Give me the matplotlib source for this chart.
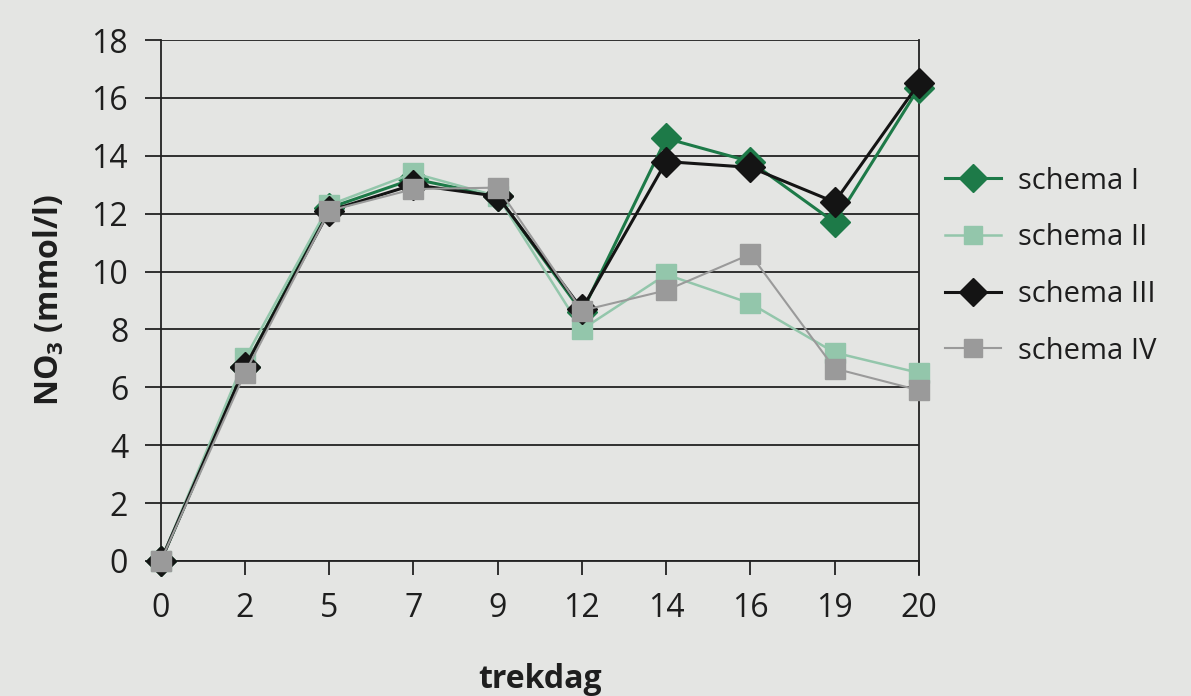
import numpy as np
import matplotlib.pyplot as plt

# trekdag (categories, equally spaced on the axis)
days = ['0', '2', '5', '7', '9', '12', '14', '16', '19', '20']

# NO3 concentration (mmol/l) per schema
schema_1 = [0, 6.7, 12.2, 13.2, 12.6, 8.6, 14.6, 13.8, 11.7, 16.35]
schema_2 = [0, 7.0, 12.3, 13.4, 12.6, 8.0, 9.9, 8.9, 7.2, 6.5]
schema_3 = [0, 6.7, 12.1, 13.0, 12.6, 8.7, 13.8, 13.6, 12.4, 16.5]
schema_4 = [0, 6.5, 12.1, 12.85, 12.9, 8.65, 9.35, 10.6, 6.65, 5.9]

bg = '#e4e5e3'
plt.rcParams['font.family'] = ['Open Sans', 'DejaVu Sans']

fig = plt.figure(figsize=(11.91, 6.96), dpi=100, facecolor=bg)
ax = fig.add_axes([0.135, 0.194, 0.6365, 0.7485], facecolor=bg)

x = np.arange(len(days))

ax.plot(x, schema_1, color='#1d7a48', lw=2.2, marker='D', ms=15,
        mec='#1d7a48', mfc='#1d7a48', label='schema I', zorder=3, clip_on=False)
ax.plot(x, schema_2, color='#93c6ab', lw=1.8, marker='s', ms=14,
        mec='#93c6ab', mfc='#93c6ab', label='schema II', zorder=4, clip_on=False)
ax.plot(x, schema_3, color='#141414', lw=2.2, marker='D', ms=15,
        mec='#141414', mfc='#141414', label='schema III', zorder=5, clip_on=False)
ax.plot(x, schema_4, color='#9a9a9a', lw=1.5, marker='s', ms=14,
        mec='#9a9a9a', mfc='#9a9a9a', label='schema IV', zorder=6, clip_on=False)

ax.set_xlim(0, len(days) - 1)
ax.set_ylim(0, 18)
ax.set_xticks(x)
ax.set_xticklabels(days)
ax.set_yticks(np.arange(0, 19, 2))

ax.yaxis.grid(True, color='#222222', lw=1.3)
ax.set_axisbelow(True)
for side in ['left', 'right', 'bottom']:
    ax.spines[side].set_color('#222222')
    ax.spines[side].set_linewidth(1.3)
ax.spines['top'].set_visible(False)
ax.spines['left'].set_bounds(-0.5, 18)
ax.spines['right'].set_bounds(-0.5, 18)
ax.spines['left'].set_clip_on(False)

ax.tick_params(axis='y', length=11.5, width=1.3, color='#222222',
               labelsize=23, pad=12, labelcolor='#1e1e1e')
ax.tick_params(axis='x', length=10, width=1.3, color='#222222',
               labelsize=23, pad=12, labelcolor='#1e1e1e')

ax.set_xlabel('trekdag', fontsize=23, fontweight='bold', labelpad=28,
              color='#1e1e1e')
ax.set_ylabel(r'NO$_\mathregular{3}$ (mmol/l)', fontsize=23, fontweight='bold',
              labelpad=18, color='#1e1e1e')

leg = ax.legend(loc='center left', bbox_to_anchor=(1.035, 0.566), frameon=False,
                fontsize=21, handlelength=1.9, handletextpad=0.6,
                labelspacing=0.95, markerscale=0.95, borderpad=0,
                borderaxespad=0, labelcolor='#1e1e1e')

fig.savefig('out.png', dpi=100, facecolor=bg)
